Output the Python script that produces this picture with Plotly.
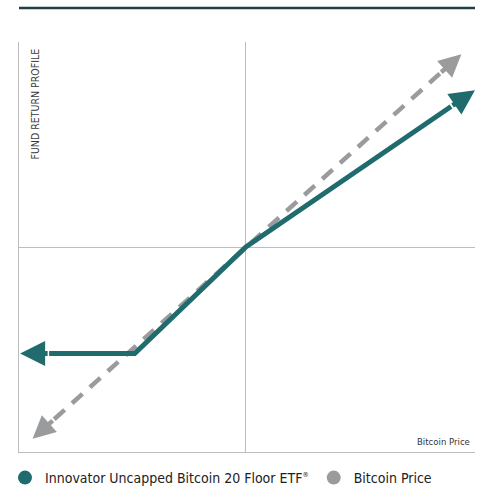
import math
import plotly.graph_objects as go

# ---- data ----
fund_name = "Innovator Uncapped Bitcoin 20 Floor ETF<sup><span style='font-size:7px'>®</span></sup>"
btc_name = "Bitcoin Price"
fund_x = [-0.995, -0.49, 0.0, 1.01]
fund_y = [-0.52, -0.52, 0.0, 0.765]
btc_x = [-0.94, 0.0, 0.95]
btc_y = [-0.935, 0.0, 0.94]
y_title = "FUND RETURN PROFILE"
x_title = "Bitcoin Price"

# ---- style ----
TEAL = "#1f6b6d"
GRAY = "#9a9b9d"
AXIS = "#bdbdbd"
RULE = "#1f3f46"
FONT = "DejaVu Sans Condensed, Liberation Sans Narrow, Arial Narrow, sans-serif"

W, H = 483, 487
ML, MR, MT, MB = 19, 8, 42, 35
XR = [-1.0, 1.01]
YR = [-1.0, 1.0]
PW, PH = W - ML - MR, H - MT - MB
KX = PW / (XR[1] - XR[0])
KY = PH / (YR[1] - YR[0])


def pull_back(xt, yt, xp, yp, px):
    dx = (xt - xp) * KX
    dy = (yt - yp) * KY
    d = math.hypot(dx, dy)
    return xt - dx / d * px / KX, yt - dy / d * px / KY


def arrow_ends(xs, ys, px):
    sx, sy = pull_back(xs[0], ys[0], xs[1], ys[1], px)
    ex, ey = pull_back(xs[-1], ys[-1], xs[-2], ys[-2], px)
    lx = [sx] + list(xs[1:-1]) + [ex]
    ly = [sy] + list(ys[1:-1]) + [ey]
    heads = [(xs[0], ys[0], sx, sy), (xs[-1], ys[-1], ex, ey)]
    return lx, ly, heads


BACK = 29
bx, by, bheads = arrow_ends(btc_x, btc_y, BACK)
fx, fy, fheads = arrow_ends(fund_x, fund_y, BACK)

fig = go.Figure()
fig.add_trace(go.Scatter(x=bx, y=by, mode="lines", showlegend=False,
                         line=dict(color=GRAY, width=4.5, dash="14px,10px"),
                         hoverinfo="skip"))
fig.add_trace(go.Scatter(x=fx, y=fy, mode="lines", showlegend=False,
                         line=dict(color=TEAL, width=5, shape="linear"),
                         hoverinfo="skip"))
# legend entries
fig.add_trace(go.Scatter(x=[None], y=[None], mode="markers", name=fund_name,
                         marker=dict(color=TEAL, size=14)))
fig.add_trace(go.Scatter(x=[None], y=[None], mode="markers", name=btc_name,
                         marker=dict(color=GRAY, size=14)))

annotations = []
for heads, col, w in ((bheads, GRAY, 4.5), (fheads, TEAL, 5)):
    for (tx, ty, ax, ay) in heads:
        annotations.append(dict(x=tx, y=ty, ax=ax, ay=ay, xref="x", yref="y",
                                axref="x", ayref="y", text="", showarrow=True,
                                arrowhead=2, arrowsize=1.0, arrowwidth=w,
                                arrowcolor=col, standoff=0))

annotations.append(dict(text=y_title, textangle=-90, xref="paper", yref="paper",
                        x=(34 - ML) / PW, y=1 - 5 / PH,
                        xanchor="center", yanchor="top", showarrow=False,
                        font=dict(family=FONT, size=10.5, color="#3a3a3a")))
annotations.append(dict(text=x_title, xref="paper", yref="paper",
                        x=(472 - ML) / PW, y=11 / PH,
                        xanchor="right", yanchor="middle", showarrow=False,
                        font=dict(family=FONT, size=9.5, color="#333")))

fig.update_layout(
    width=W, height=H,
    margin=dict(l=ML, r=MR, t=MT, b=MB, pad=0, autoexpand=False),
    paper_bgcolor="white", plot_bgcolor="white",
    font=dict(family=FONT, color="#222"),
    xaxis=dict(range=XR, showgrid=False, zeroline=True, zerolinecolor=AXIS,
               zerolinewidth=1, showline=True, linecolor=AXIS, linewidth=1,
               showticklabels=False, ticks="", fixedrange=True),
    yaxis=dict(range=YR, showgrid=False, zeroline=True, zerolinecolor=AXIS,
               zerolinewidth=1, showline=True, linecolor=AXIS, linewidth=1,
               showticklabels=False, ticks="", fixedrange=True),
    showlegend=True,
    legend=dict(orientation="h", x=(5 - ML) / PW, xanchor="left",
                y=-(478 - (H - MB)) / PH, yanchor="middle",
                font=dict(family=FONT, size=14, color="#222"),
                itemsizing="trace",
                bgcolor="rgba(0,0,0,0)", borderwidth=0),
    annotations=annotations,
    shapes=[dict(type="line", xref="paper", yref="paper", x0=0, x1=1,
                 y0=1 + (MT - 8) / PH, y1=1 + (MT - 8) / PH,
                 line=dict(color=RULE, width=2.5))],
)

fig.write_html("out.html")
